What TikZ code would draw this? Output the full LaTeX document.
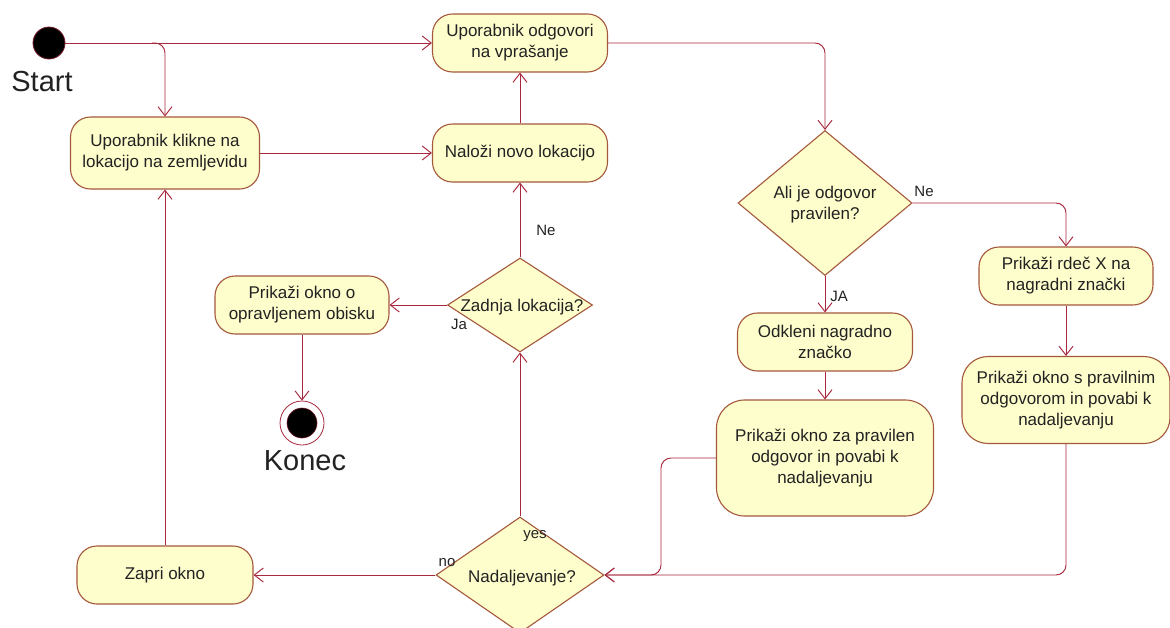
\documentclass[tikz,border=0pt]{standalone}
\usepackage{fontspec}
\setmainfont{Liberation Sans}
\usetikzlibrary{arrows.meta,shapes.geometric}
\definecolor{boxfill}{HTML}{FEFECC}
\definecolor{boxline}{HTML}{A4583C}
\definecolor{conn}{HTML}{A8283E}
\definecolor{txtc}{HTML}{222222}
\tikzset{
  act/.style={rectangle, rounded corners=20pt, draw=boxline, fill=boxfill, line width=1.1pt,
    align=center, text=txtc, inner sep=2pt, font=\fontsize{17}{21}\selectfont},
  dia/.style={diamond, draw=boxline, fill=boxfill, line width=1.1pt, inner sep=0pt},
  diatxt/.style={align=center, text=txtc, inner sep=0pt, font=\fontsize{17}{21}\selectfont},
  arr/.style={draw=conn, line width=0.95pt, -{Straight Barb[length=9pt,width=14pt,line width=0.95pt]}},
  ln/.style={draw=conn, line width=0.95pt},
  lbl/.style={text=txtc, inner sep=0pt, font=\fontsize{15}{17}\selectfont},
  big/.style={text=txtc, inner sep=0pt, font=\fontsize{29}{33}\selectfont},
}
\begin{document}
\begin{tikzpicture}[x=1pt,y=-1pt]
\useasboundingbox (0,0) rectangle (1170,627);
\fill[white] (0,0) rectangle (1170,627);

% start
\node[circle, fill=black, draw=conn!70!black, line width=0.8pt, minimum size=32pt, inner sep=0pt] (start) at (49,43) {};
\node[big] (startlbl) at (42,82) {Start};

% activities
\node[act, minimum width=175pt, minimum height=58pt] (top) at (520,43) {Uporabnik odgovori\\na vprašanje};
\node[act, minimum width=175pt, minimum height=58pt] (naloz) at (520,153) {Naloži novo lokacijo};
\node[act, minimum width=189pt, minimum height=72pt] (klikne) at (165,153) {Uporabnik klikne na\\lokacijo na zemljevidu};
\node[act, minimum width=174pt, minimum height=58pt] (okno) at (302,305) {Prikaži okno o\\opravljenem obisku};
\node[act, minimum width=174pt, minimum height=58pt] (rdec) at (1066,276) {Prikaži rdeč X na\\nagradni znački};
\node[act, minimum width=175pt, minimum height=58pt] (odkl) at (825,342) {Odkleni nagradno\\značko};
\node[act, rounded corners=28pt, minimum width=217pt, minimum height=116pt] (prav) at (825,458) {Prikaži okno za pravilen\\odgovor in povabi k\\nadaljevanju};
\node[act, rounded corners=26pt, minimum width=208pt, minimum height=87pt] (pnim) at (1066,400) {Prikaži okno s pravilnim\\odgovorom in povabi k\\nadaljevanju};
\node[act, minimum width=176pt, minimum height=58pt] (zapri) at (165,575) {Zapri okno};

% decisions
\node[dia, minimum width=174pt, minimum height=145pt] (ali) at (825,203) {};
\node[diatxt] (alit) at (825,205) {Ali je odgovor\\pravilen?};
\node[dia, minimum width=145pt, minimum height=94pt] (zad) at (520,305) {};
\node[diatxt] (zadt) at (522,307) {Zadnja lokacija?};
\node[dia, minimum width=168pt, minimum height=116pt] (nad) at (520,575) {};
\node[diatxt] (nadt) at (522,578) {Nadaljevanje?};

% end
\node[circle, draw=conn, fill=white, line width=0.8pt, minimum size=44pt, inner sep=0pt] (end) at (302,423) {};
\node[circle, fill=black, draw=conn!70!black, line width=0.6pt, minimum size=30pt, inner sep=0pt] (endin) at (end) {};
\node[big] (endlbl) at (305,461) {Konec};

% connectors
\coordinate (br) at (152,43);
\draw[arr] (start.east) -- (top.west);
\draw[arr, rounded corners=10pt] (br) -| (klikne.north);
\draw[arr] (klikne.east) -- (naloz.west);
\draw[arr] (naloz.north) -- (top.south);
\draw[arr, rounded corners=10pt] (top.east) -| (ali.north);
\draw[arr, rounded corners=10pt] (ali.east) -| (rdec.north);
\node[lbl] (ne1) at (924,191) {Ne};
\draw[arr] (ali.south) -- (odkl.north);
\node[lbl] (ja1) at (839,296) {JA};
\draw[arr] (odkl.south) -- (prav.north);
\draw[arr] (rdec.south) -- (pnim.north);
\draw[arr, rounded corners=10pt] (pnim.south) |- (nad.east);
\coordinate (pl) at (661,458);
\draw[arr, rounded corners=10pt] (prav.west) -- (pl) |- (nad.east);
\draw[arr] (nad.north) -- (zad.south);
\node[lbl] (yes) at (535,536) {yes};
\draw[arr] (nad.west) -- (zapri.east);
\node[lbl] (no) at (447,563) {no};
\draw[arr] (zapri.north) -- (klikne.south);
\draw[arr] (zad.north) -- (naloz.south);
\node[lbl] (ne2) at (546,230) {Ne};
\draw[arr] (zad.west) -- (okno.east);
\node[lbl] (ja2) at (459,324) {Ja};
\draw[arr] (okno.south) -- (end.north);
\end{tikzpicture}
\end{document}
